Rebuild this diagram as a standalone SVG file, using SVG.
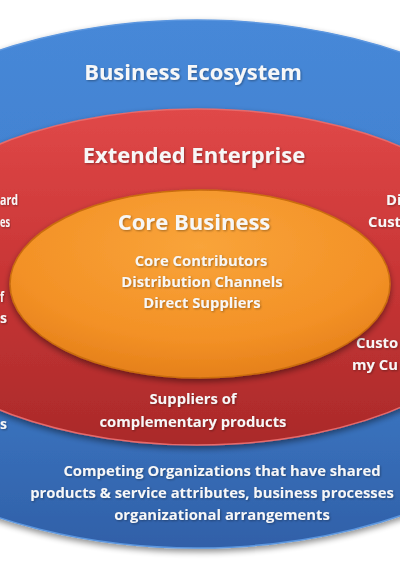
<svg xmlns="http://www.w3.org/2000/svg" width="400" height="564" viewBox="0 0 400 564">
<defs>
<linearGradient id="gBlue" x1="0" y1="0" x2="0" y2="1">
<stop offset="0" stop-color="#4688d8"/>
<stop offset="0.6" stop-color="#3f7cc9"/>
<stop offset="1" stop-color="#3060a8"/>
</linearGradient>
<linearGradient id="gRed" x1="0" y1="0" x2="0" y2="1">
<stop offset="0" stop-color="#e04848"/>
<stop offset="0.5" stop-color="#c83535"/>
<stop offset="1" stop-color="#aa2a2a"/>
</linearGradient>
<radialGradient id="gOrange" cx="0.5" cy="0.3" r="0.7">
<stop offset="0" stop-color="#f9a43a"/>
<stop offset="0.7" stop-color="#f39126"/>
<stop offset="1" stop-color="#e5801a"/>
</radialGradient>
<filter id="sh" x="-10%" y="-10%" width="120%" height="130%">
<feGaussianBlur in="SourceAlpha" stdDeviation="3"/>
<feOffset dy="3" result="b"/>
<feComponentTransfer><feFuncA type="linear" slope="0.45"/></feComponentTransfer>
<feMerge><feMergeNode/><feMergeNode in="SourceGraphic"/></feMerge>
</filter>
<filter id="ts" x="-5%" y="-20%" width="110%" height="150%">
<feGaussianBlur in="SourceAlpha" stdDeviation="0.8"/>
<feOffset dx="1" dy="1"/>
<feComponentTransfer><feFuncA type="linear" slope="0.35"/></feComponentTransfer>
<feMerge><feMergeNode/><feMergeNode in="SourceGraphic"/></feMerge>
</filter>
</defs>
<style>
text{font-family:"Open Sans","Liberation Sans",sans-serif;font-weight:700;fill:#f7f7f7;filter:url(#ts)}
.title{font-size:22px;text-anchor:middle}
.lbl{font-size:14.8px;text-anchor:middle}
.st{font-size:14.8px;text-anchor:start}
</style>
<rect width="400" height="564" fill="#ffffff"/>
<g id="business-ecosystem">
<ellipse cx="197" cy="284" rx="425" ry="264" fill="url(#gBlue)" stroke="#5b96df" stroke-width="1.5" filter="url(#sh)"/>
<text class="title" x="193" y="80">Business Ecosystem</text>
<text class="lbl" x="222" y="476">Competing Organizations that have shared</text>
<text class="lbl" x="212" y="498">products &amp; service attributes, business processes</text>
<text class="lbl" x="222" y="520">organizational arrangements</text>
<text class="st" x="0" y="429" textLength="7" lengthAdjust="spacingAndGlyphs">s</text>
</g>
<g id="extended-enterprise">
<ellipse cx="197" cy="277" rx="323" ry="168" fill="url(#gRed)" stroke="#e86a6a" stroke-width="1.5" filter="url(#sh)"/>
<text class="title" x="194" y="163">Extended Enterprise</text>
<text class="lbl" x="193" y="404">Suppliers of</text>
<text class="lbl" x="193" y="427">complementary products</text>
<text class="st" x="0" y="205" textLength="18" lengthAdjust="spacingAndGlyphs">ard</text>
<text class="st" x="0" y="227" textLength="10" lengthAdjust="spacingAndGlyphs">es</text>
<text class="st" x="0" y="302" textLength="4" lengthAdjust="spacingAndGlyphs">f</text>
<text class="st" x="0" y="323" textLength="7" lengthAdjust="spacingAndGlyphs">s</text>
<text class="st" x="386" y="205">Di</text>
<text class="st" x="368" y="227">Cust</text>
<text class="st" x="356" y="348">Custo</text>
<text class="st" x="352" y="370">my Cu</text>
</g>
<g id="core-business">
<ellipse cx="200" cy="284" rx="190" ry="94" fill="url(#gOrange)" stroke="#c96d10" stroke-width="1.5" filter="url(#sh)"/>
<text class="title" x="194" y="230">Core Business</text>
<text class="lbl" x="201" y="266">Core Contributors</text>
<text class="lbl" x="202" y="287">Distribution Channels</text>
<text class="lbl" x="202" y="308">Direct Suppliers</text>
</g>
<g id="connectors"/>
</svg>
